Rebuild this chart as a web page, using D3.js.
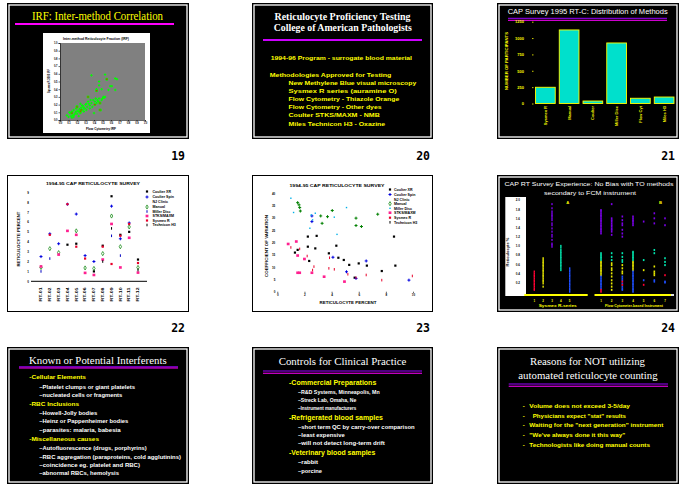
<!DOCTYPE html>
<html><head><meta charset="utf-8">
<script src="https://cdn.jsdelivr.net/npm/d3@7"></script>
<style>body{margin:0;background:#fff}svg{display:block}</style>
</head><body>
<script>
// ================= DATA =================
// Slide 19: IRF inter-method correlation (x = flow cytometry IRF, y = Sysmex IRF)
const irfGreen = [[0.08,0.06],[0.10,0.04],[0.12,0.09],[0.13,0.05],[0.14,0.11],[0.15,0.06],[0.16,0.13],[0.16,0.04],[0.18,0.09],[0.19,0.15],[0.20,0.08],[0.20,0.18],[0.22,0.11],[0.23,0.14],[0.24,0.21],[0.24,0.09],[0.25,0.16],[0.27,0.13],[0.27,0.18],[0.28,0.11],[0.29,0.15],[0.31,0.21],[0.31,0.13],[0.32,0.17],[0.33,0.24],[0.35,0.15],[0.35,0.19],[0.36,0.26],[0.37,0.22],[0.38,0.17],[0.39,0.26],[0.40,0.09],[0.41,0.24],[0.42,0.28],[0.43,0.22],[0.44,0.26],[0.45,0.24],[0.46,0.28],[0.47,0.22],[0.48,0.13],[0.49,0.26],[0.50,0.28],[0.51,0.30],[0.52,0.29],[0.53,0.30],[0.37,0.58],[0.53,0.59],[0.55,0.53],[0.65,0.54],[0.67,0.53],[0.46,0.50],[0.43,0.40],[0.46,0.45],[0.49,0.40],[0.57,0.39],[0.59,0.44],[0.61,0.44],[0.65,0.39],[0.14,0.03],[0.11,0.10],[0.17,0.07],[0.21,0.12],[0.26,0.19],[0.30,0.20],[0.34,0.21],[0.22,0.05],[0.19,0.11],[0.28,0.16]];
const irfRed = [[0.20,0.17],[0.24,0.11],[0.33,0.30],[0.43,0.38],[0.47,0.22],[0.47,0.13],[0.55,0.53],[0.14,0.09],[0.25,0.13],[0.41,0.20]];
const irfTicks = [0,0.1,0.2,0.3,0.4,0.5,0.6,0.7,0.8,0.9,1.0];

// Slide 20 text
const s20Title = ["Reticulocyte Proficiency Testing","College of American Pathologists"];
const s20Intro = "1994-96 Program - surrogate blood material";
const s20Head = "Methodologies Approved for Testing";
const s20Items = ["New Methylene Blue visual microscopy","Sysmex R series (auramine O)","Flow Cytometry - Thiazole Orange","Flow Cytometry - Other dyes","Coulter STKS/MAXM - NMB","Miles Technicon H3 - Oxazine"];

// Slide 21: distribution of methods
const methodCategories = ["Sysmex R","Manual","Coulter","Miller Disc","Flow Cyt","Miles H3"];
const methodCounts = [248,1124,38,925,80,99];
const methodTicks = [0,250,500,750,1000,1250];

// Slides 22/23: 1994-95 CAP reticulocyte survey
const surveySeries = ["Coulter XR","Coulter Spin","Manual","Miller Disc","STKS/MAXM","Sysmex R","Technicon H3"];
const specimens = ["RT-01","RT-02","RT-03","RT-04","RT-05","RT-06","RT-07","RT-08","RT-09","RT-10","RT-11","RT-12"];
const retCoulterXR   = [null,null,null,3.7,3.8,null,1.0,3.6,8.6,4.7,5.0,2.2];
const retCoulterSpin = [2.5,4.8,3.8,7.8,6.8,2.6,2.0,null,7.6,4.3,5.9,null];
const retManual      = [1.4,3.3,2.9,null,5.1,1.35,1.3,2.8,6.6,3.5,5.5,1.4];
const retMillerDisc  = [1.0,2.3,null,null,null,null,null,null,4.6,2.6,null,null];
const retSTKS        = [1.5,null,2.7,5.1,4.7,0.85,0.64,2.2,5.8,1.4,4.4,0.88];
const retSysmex      = [null,4.7,null,7.8,3.5,2.3,null,3.5,1.75,4.6,5.8,1.85];
const retTechnicon   = [null,null,null,null,null,null,null,2.0,5.35,null,null,1.14];
const retTicks = [0,1,2,3,4,5,6,7,8,9];

// Slide 23: CV vs reticulocyte percent, [retic %, CV]
const cvCoulterXR = [[2.25,22.4],[2.9,22.7],[1.3,15.9],[1.5,17.0],[2.25,18.3],[2.8,17.6],[4.35,18.7],[3.8,15.6],[4.5,13.8],[2.35,12.5],[4.9,12.9],[5.3,10.9],[6.0,11.5],[6.6,10.6],[7.7,8.4],[8.6,22.4],[8.7,10.6],[5.7,5.7]];
const cvCoulterSpin = [[2.55,30.8],[2.55,28.5],[4.1,14.0],[5.1,8.1],[6.55,12.5],[9.7,4.7],[5.8,5.4]];
const cvManual = [[1.5,36.2],[1.6,35.3],[1.65,34.2],[1.7,32.8],[3.2,30.8],[3.7,30.5],[3.3,27.8],[4.05,33.0],[5.8,29.9],[5.8,26.9],[6.2,26.5],[7.4,31.5]];
const cvMillerDisc = [[1.0,38.0],[1.2,32.2],[2.5,31.2],[2.8,31.9],[2.4,25.8],[2.6,29.2],[4.4,23.3],[5.1,34.2],[4.2,30.3]];
const cvSTKS = [[0.8,19.4],[1.4,20.4],[1.5,14.7],[2.0,13.3],[1.5,7.7],[1.65,7.7],[2.55,7.7],[3.45,6.1],[4.95,4.1]];
const cvSysmex = [[1.0,18.0],[1.65,17.4],[2.2,14.5],[2.7,10.2],[2.6,8.8],[3.85,13.8],[3.8,9.5],[4.2,9.1],[5.2,7.1],[5.8,5.7],[6.55,6.8],[7.7,4.7],[9.95,6.4]];
const cvTechnicon = [];
const cvTicksY = [0,5,10,15,20,25,30,35,40];
const cvTicksX = [0,2,4,6,8,10];

// Slide 24: CAP RT survey strips (values per column, by colour group)
const rtSysmexCols = ["1","2","3","4","5"];
const rtFlowCols = ["1","2","3","4","5","6","7"];
const rtRed = {S:[[0.44,0.4,0.36,0.33,0.29,0.25,0.22,0.18,0.15,0.11,0.07,0.04],[],[],[],[]],
               F:[[0.04,0.0],[],[0.22,0.15],[],[0.15],[],[0.36]]};
const rtYellow = {S:[[],[0.73,0.69,0.65,0.62,0.58,0.55,0.51,0.47,0.44,0.4,0.36,0.33,0.29,0.25,0.22,0.18,0.11],[],[],[]],
               F:[[0.65,0.62,0.58,0.55,0.51,0.47,0.44,0.4,0.36],[0.62,0.58,0.51,0.47,0.4,0.33,0.25,0.18,0.11,0.04],[0.58,0.51,0.44,0.4],[0.65,0.62,0.58,0.55,0.51,0.47],[0.47],[0.55,0.44,0.4,0.36],[]]};
const rtPurple = {S:[[],[],[1.91,1.82,1.75,1.71,1.67,1.64,1.6,1.56,1.49,1.45,1.38,1.31,1.24,1.2,1.13,1.05,1.02,0.98],[],[]],
               F:[[1.78,1.75,1.71,1.67,1.64,1.6,1.56,1.53,1.49,1.45,1.42,1.38,1.35,1.31,1.27],[1.91,1.6,1.56,1.53,1.49,1.45,1.42,1.38,1.35,1.31,1.24],[1.64,1.56,1.49,1.45,1.35,1.27,1.2],[1.64,1.6,1.56,1.53,1.49,1.45],[1.53],[1.71,1.6,1.49],[1.6,1.45]]};
const rtCyan = {S:[[],[],[],[1.0,0.96,0.91,0.87,0.84,0.8,0.76,0.73,0.69,0.65,0.62,0.58,0.55,0.51,0.47],[]],
               F:[[0.84,0.8,0.76,0.73,0.69],[0.84,0.76,0.69],[0.84,0.76,0.69,0.65],[0.87,0.84,0.8,0.76,0.73,0.69],[0.69],[0.91,0.84],[0.73,0.65,0.58]]};
const rtBlue = {S:[[],[],[],[],[0.51,0.47,0.44,0.4,0.36,0.33,0.29,0.25,0.22,0.18,0.15,0.11,0.07,0.04,0.0]],
               F:[[0.33,0.29,0.25,0.22,0.18,0.15,0.11,0.07],[],[0.33,0.29,0.25,0.18,0.11,0.07,0.04],[0.44,0.4,0.36,0.33,0.29,0.25,0.22,0.18,0.15,0.11,0.07,0.04,0.0],[0.25],[0.25,0.22],[0.22,0.2]]};
const rtTicks = [0.2,0.4,0.6,0.8,1.0,1.2,1.4,1.6,1.8,2.0];

// Slides 25-27 text
const s25Title = "Known or Potential Interferents";
const s25Sections = [
  ["-Cellular Elements", ["–Platelet clumps or giant platelets","–nucleated cells or fragments"]],
  ["-RBC Inclusions", ["–Howell-Jolly bodies","–Heinz or Pappenheimer bodies","–parasites: malaria, babesia"]],
  ["-Miscellaneous causes", ["–Autofluorescence (drugs, porphyrins)","–RBC aggregation (paraproteins, cold agglutinins)","–coincidence eg. platelet and RBC)","–abnormal RBCs, hemolysis"]]
];
const s26Title = "Controls for Clinical Practice";
const s26Sections = [
  ["-Commercial Preparations", ["–R&D Systems, Minneapolis, Mn","–Streck Lab, Omaha, Ne","–Instrument manufacturers"]],
  ["-Refrigerated blood samples", ["–short term QC by carry-over comparison","–least expensive","–will not detect long-term drift"]],
  ["-Veterinary blood samples", ["–rabbit","–porcine"]]
];
const s27Title = ["Reasons for NOT utilizing","automated reticulocyte counting"];
const s27Items = ["Volume does not exceed 3-5/day","Physicians expect \"stat\" results","Waiting for the \"next generation\" instrument","\"We've always done it this way\"","Technologists like doing manual counts"];
const slideNumbers = ["19","20","21","22","23","24"];

// ================= DRAWING =================
const W=686,H=490;
const SANS="'Liberation Sans', Arial, sans-serif", SERIF="'Liberation Serif','Times New Roman',serif";
const YEL="#ffff00", MAG="#ff00ff", PUR="#9a00ff";
const svg=d3.select("body").append("svg").attr("width",W).attr("height",H);
svg.append("rect").attr("width",W).attr("height",H).attr("fill","#fff");

function frame(x0,y0,x1,y1,dark){
  const g=svg.append("g");
  if(dark){
    g.append("rect").attr("x",x0).attr("y",y0).attr("width",x1-x0).attr("height",y1-y0).attr("fill","#000");
    g.append("rect").attr("x",x0+2).attr("y",y0+2).attr("width",x1-x0-4).attr("height",y1-y0-4).attr("fill","none").attr("stroke","#fff").attr("stroke-width",1.3);
  } else {
    g.append("rect").attr("x",x0+0.5).attr("y",y0+0.5).attr("width",x1-x0-1).attr("height",y1-y0-1).attr("fill","#fff").attr("stroke","#000").attr("stroke-width",1);
  }
  return g;
}
function label(g,s,x,y,o={}){
  const t=g.append("text").attr("x",x).attr("y",y).text(s)
    .attr("font-family",o.family||SANS).attr("font-size",o.size||6).attr("font-weight",o.weight||"bold")
    .attr("fill",o.fill||"#fff").attr("text-anchor",o.anchor||"start");
  if(o.len){t.attr("textLength",o.len).attr("lengthAdjust","spacingAndGlyphs");}
  if(o.rotate!=null) t.attr("transform",`rotate(${o.rotate},${x},${y})`);
  return t;
}
function hline(g,x0,x1,y,color,w){
  g.append("line").attr("x1",x0).attr("x2",x1).attr("y1",y).attr("y2",y).attr("stroke",color).attr("stroke-width",w);
}
function marker(g,type,x,y,color){
  if(type==="sq"){g.append("rect").attr("x",x-1.1).attr("y",y-1.1).attr("width",2.2).attr("height",2.2).attr("fill",color);}
  else if(type==="bigsq"){g.append("rect").attr("x",x-1.4).attr("y",y-1.3).attr("width",2.8).attr("height",2.6).attr("fill",color);}
  else if(type==="dot"){g.append("rect").attr("x",x-0.7).attr("y",y-0.7).attr("width",1.4).attr("height",1.4).attr("fill",color);}
  else if(type==="plus"){
    g.append("rect").attr("x",x-1.5).attr("y",y-0.5).attr("width",3).attr("height",1).attr("fill",color);
    g.append("rect").attr("x",x-0.5).attr("y",y-1.5).attr("width",1).attr("height",3).attr("fill",color);}
  else if(type==="diamond"){g.append("path").attr("transform",`translate(${x},${y})`).attr("d",d3.symbol(d3.symbolDiamond,5)()).attr("fill","none").attr("stroke",color).attr("stroke-width",0.7);}
  else if(type==="dash"){g.append("rect").attr("x",x-0.5).attr("y",y-1.3).attr("width",1).attr("height",2.6).attr("fill",color);}
}

// ---------- Slide numbers ----------
const numPos=[[185,160],[430,160],[675,160],[185,332],[430,332],[675,332]];
slideNumbers.forEach((n,i)=>label(svg,n,numPos[i][0],numPos[i][1],{size:11.5,fill:"#000",anchor:"end",family:"'DejaVu Sans Mono', 'Liberation Mono', monospace"}));

// ---------- Slide 19 ----------
{
  const g=frame(7,3,189,139,true);
  label(g,"IRF: Inter-method Correlation",97.5,20,{family:SERIF,weight:"normal",size:11.5,fill:YEL,anchor:"middle",len:131});
  hline(g,15,174,24,MAG,2);
  g.append("rect").attr("x",43).attr("y",33).attr("width",107).attr("height",100).attr("fill","#fff");
  const x=d3.scaleLinear().domain([0,1]).range([60,145]);
  const y=d3.scaleLinear().domain([0,1]).range([120,43]);
  g.append("rect").attr("x",x(0)).attr("y",y(1)).attr("width",x(1)-x(0)).attr("height",y(0)-y(1)).attr("fill","#808080");
  label(g,"Inter-method Reticulocyte Fraction (IRF)",96,39.5,{size:3.2,fill:"#000",anchor:"middle",len:66});
  const ax=g.append("g").attr("transform",`translate(0,${y(0)})`).call(d3.axisBottom(x).tickValues(irfTicks).tickSize(1.5).tickPadding(1).tickFormat(d3.format(".1f")));
  const ay=g.append("g").attr("transform",`translate(${x(0)},0)`).call(d3.axisLeft(y).tickValues(irfTicks).tickSize(1.5).tickPadding(1).tickFormat(d3.format(".1f")));
  [ax,ay].forEach(a=>{a.selectAll("text").attr("font-size",2.6).attr("font-family",SANS).attr("font-weight","bold").attr("fill","#000");a.selectAll("line,path").attr("stroke","#000").attr("stroke-width",0.6);});
  label(g,"Flow Cytometry IRF",101,129.5,{size:3,fill:"#000",anchor:"middle",len:30});
  label(g,"Sysmex R-3000 IRF",50,81,{size:3,fill:"#000",anchor:"middle",rotate:-90,len:24});
  irfGreen.forEach(d=>{
    g.append("rect").attr("x",x(d[0])-1.2).attr("y",y(d[1])-0.5).attr("width",2.4).attr("height",1).attr("fill","#00ff00");
    g.append("rect").attr("x",x(d[0])-0.5).attr("y",y(d[1])-1.2).attr("width",1).attr("height",2.4).attr("fill","#00ff00");
  });
  irfRed.forEach(d=>{
    g.append("rect").attr("x",x(d[0])-1.3).attr("y",y(d[1])-1.3).attr("width",2.6).attr("height",2.6).attr("fill","#00ff00");
    g.append("rect").attr("x",x(d[0])-0.6).attr("y",y(d[1])-0.6).attr("width",1.2).attr("height",1.2).attr("fill","#ff0000");
  });
}

// ---------- Slide 20 ----------
{
  const g=frame(252,3,433,139,true);
  label(g,s20Title[0],342.5,20,{family:SERIF,size:10,fill:"#fff",anchor:"middle",len:136});
  label(g,s20Title[1],342.8,31,{family:SERIF,size:10,fill:"#fff",anchor:"middle",len:138});
  hline(g,263,422,40,"#cc00ff",1.8);
  label(g,s20Intro,270.7,60,{size:6,fill:YEL,len:141.3});
  label(g,s20Head,269.7,77,{size:6,fill:YEL,len:121.6});
  const lens=[127.7,108.3,110.7,93,91.3,96.7];
  s20Items.forEach((s,i)=>label(g,s,288.5,85+i*8.1,{size:6,fill:YEL,len:lens[i]}));
}

// ---------- Slide 21 ----------
{
  const g=frame(497,3,679,139,true);
  label(g,"CAP Survey 1995 RT-C: Distribution of Methods",587.7,14,{size:6.5,weight:"normal",fill:"#fff",anchor:"middle",len:160});
  hline(g,508,667,18.3,PUR,1);
  hline(g,508,667,20.3,MAG,1);
  const x=d3.scaleBand().domain(methodCategories).range([533.5,676]).paddingInner(0.17).paddingOuter(0.085);
  const y=d3.scaleLinear().domain([0,1250]).range([103.5,21.7]);
  g.selectAll("rect.bar").data(methodCounts).enter().append("rect").attr("class","bar")
    .attr("x",(d,i)=>x(methodCategories[i])).attr("y",d=>y(d)).attr("width",x.bandwidth()).attr("height",d=>y(0)-y(d))
    .attr("fill","#00e0cc").attr("stroke",YEL).attr("stroke-width",0.9);
  const ay=g.append("g").attr("transform","translate(533.5,0)").call(d3.axisLeft(y).tickValues(methodTicks).tickSize(1.5).tickPadding(8).tickFormat(d3.format("d")));
  ay.select(".domain").remove();
  ay.selectAll("line").attr("stroke",YEL).attr("stroke-width",0.8);
  ay.selectAll("text").attr("font-size",4).attr("font-family",SANS).attr("font-weight","bold").attr("fill",YEL);
  label(g,"NUMBER OF PARTICIPANTS",507.8,61,{size:4.2,fill:YEL,anchor:"middle",rotate:-90,len:58});
  methodCategories.forEach(c=>label(g,c,x(c)+x.bandwidth()/2+1.5,106,{size:4,fill:YEL,anchor:"end",rotate:-90}));
}

// ---------- Slide 22 ----------
const seriesStyle = {
  "Coulter XR":["sq","#000"],"Coulter Spin":["plus","#0000e0"],"Manual":["diamond","#008000"],
  "Miller Disc":["dash","#0000c0"],"STKS/MAXM":["bigsq","#ff2090"],"Sysmex R":["sq","#e8002a"],"Technicon H3":["dash","#000"]};
const retValues=[retCoulterXR,retCoulterSpin,retManual,retMillerDisc,retSTKS,retSysmex,retTechnicon];
const cvValues=[cvCoulterXR,cvCoulterSpin,cvManual,cvMillerDisc,cvSTKS,cvSysmex,cvTechnicon];
function legend(g,x0,tx,ys,cyan){
  surveySeries.forEach((s,i)=>{
    let st=seriesStyle[s];
    if(cyan && s==="Miller Disc") st=["dot","#00b0e8"];
    marker(g,st[0],x0,ys[i],st[1]);
    label(g,s,tx,ys[i]+1.4,{size:3.6,fill:"#000"});
  });
  label(g,"NJ Clinic",tx,ys[1]+6.2,{size:3.6,fill:"#000"});
}
{
  const g=frame(7,175,189,312,false);
  label(g,"1994-95 CAP RETICULOCYTE SURVEY",93,185,{size:4,fill:"#000",anchor:"middle",len:94});
  const x=d3.scalePoint().domain(specimens).range([41,138]);
  const y=d3.scaleLinear().domain([0,9]).range([281.3,192.3]);
  g.append("line").attr("x1",x.range()[0]-10).attr("x2",x.range()[1]+9).attr("y1",y(0)).attr("y2",y(0)).attr("stroke","#000").attr("stroke-width",1);
  const ay=g.append("g").attr("transform","translate(31,0)").call(d3.axisLeft(y).tickValues(retTicks).tickSize(0).tickPadding(2).tickFormat(d3.format("d")));
  ay.select(".domain").remove();
  ay.selectAll("text").attr("font-size",3).attr("font-family",SANS).attr("font-weight","bold").attr("fill","#000");
  label(g,"RETICULOCYTE PERCENT",20,239,{size:4,fill:"#000",anchor:"middle",rotate:-90,len:55});
  specimens.forEach(s=>label(g,s,x(s)+1.3,287.5,{size:3.8,fill:"#000",anchor:"end",rotate:-90,len:14}));
  surveySeries.forEach((s,k)=>{
    const st=seriesStyle[s];
    retValues[k].forEach((v,i)=>{ if(v!=null) marker(g,st[0],x(specimens[i]),y(v),st[1]); });
  });
  legend(g,147,152.5,[191.5,197,207,211.5,216,220.5,225],false);
}

// ---------- Slide 23 ----------
{
  const g=frame(252,175,433,312,false);
  label(g,"1994-95 CAP RETICULOCYTE SURVEY",337,186.5,{size:4,fill:"#000",anchor:"middle",len:95});
  const x=d3.scaleLinear().domain([0,10]).range([277.3,413]);
  const y=d3.scaleLinear().domain([0,40]).range([291.7,193.3]);
  const ay=g.append("g").attr("transform",`translate(${x(0)},0)`).call(d3.axisLeft(y).tickValues(cvTicksY).tickSize(0).tickPadding(2).tickFormat(d3.format("d")));
  ay.select(".domain").remove();
  const ax=g.append("g").attr("transform",`translate(0,${y(0)})`).call(d3.axisBottom(x).tickValues(cvTicksX).tickSize(1.5).tickPadding(1).tickFormat(d3.format("d")));
  ax.select(".domain").remove();
  [ax,ay].forEach(a=>{a.selectAll("text").attr("font-size",3).attr("font-family",SANS).attr("font-weight","bold").attr("fill","#000");a.selectAll("line").attr("stroke","#000").attr("stroke-width",0.6);});
  label(g,"RETICULOCYTE PERCENT",348,304,{size:4,fill:"#000",anchor:"middle",len:57});
  label(g,"COEFFICIENT OF VARIATION",267.5,246,{size:4,fill:"#000",anchor:"middle",rotate:-90,len:62});
  surveySeries.forEach((s,k)=>{
    let st=seriesStyle[s];
    if(s==="Miller Disc") st=["dot","#00b0e8"];
    if(s==="Manual") st=["plus","#008000"];
    if(s==="Sysmex R") st=["dash","#e8002a"];
    cvValues[k].forEach(d=>marker(g,st[0],x(d[0]),y(d[1]),st[1]));
  });
  legend(g,390,394,[189.5,194.5,203.7,208.3,212.7,217.7,222.3],true);
}

// ---------- Slide 24 ----------
{
  const g=frame(497,175,679,312,true);
  label(g,"CAP RT Survey Experience: No Bias with TO methods",589,185.5,{size:6.2,weight:"normal",fill:"#fff",anchor:"middle",len:169});
  label(g,"secondary to FCM instrument",590,195,{size:6.2,weight:"normal",fill:"#fff",anchor:"middle",len:92});
  const y=d3.scaleLinear().domain([0,2]).range([291.7,200]);
  g.append("rect").attr("x",505.3).attr("y",197).attr("width",20.7).attr("height",99).attr("fill","#fff");
  const ay=g.append("g").attr("transform","translate(521,0)").call(d3.axisLeft(y).tickValues(rtTicks).tickSize(0).tickPadding(1).tickFormat(d3.format(".1f")));
  ay.select(".domain").remove();
  ay.selectAll("text").attr("font-size",3).attr("font-family",SANS).attr("font-weight","bold").attr("fill","#000");
  label(g,"Reticulocyte %",508.5,252,{size:3,fill:"#000",anchor:"middle",rotate:-90,len:29});
  const xs=d3.scalePoint().domain(rtSysmexCols).range([534.3,569.7]);
  const xf=d3.scalePoint().domain(rtFlowCols).range([601,665]);
  const colours=[[rtPurple,"#7a00e8"],[rtCyan,"#00e8b0"],[rtYellow,"#e8e800"],[rtBlue,"#1f4fff"],[rtRed,"#ff0033"]];
  colours.forEach(([set,c])=>{
    rtSysmexCols.forEach((col,i)=>set.S[i].forEach(v=>g.append("rect").attr("x",xs(col)-0.7).attr("y",y(v)-1).attr("width",1.4).attr("height",2).attr("fill",c)));
    rtFlowCols.forEach((col,i)=>set.F[i].forEach(v=>g.append("rect").attr("x",xf(col)-0.8).attr("y",y(v)-1).attr("width",1.6).attr("height",2).attr("fill",c)));
  });
  const by=y(0)+3.3;
  g.append("line").attr("x1",xs.range()[0]-10).attr("x2",xs.range()[1]+18).attr("y1",by).attr("y2",by).attr("stroke",YEL).attr("stroke-width",1.8);
  g.append("line").attr("x1",xf.range()[0]-6.5).attr("x2",xf.range()[1]+6).attr("y1",by).attr("y2",by).attr("stroke",YEL).attr("stroke-width",1.8);
  g.append("line").attr("x1",xf.range()[1]+6).attr("x2",xf.range()[1]+9).attr("y1",by).attr("y2",by).attr("stroke","#fff").attr("stroke-width",1.8);
  label(g,"A",xs("5")-2,204,{size:4.2,fill:YEL,anchor:"middle"});
  label(g,"B",xf("7")-4.5,204,{size:4.2,fill:YEL,anchor:"middle"});
  rtSysmexCols.forEach(c=>label(g,c,xs(c),302,{size:3,fill:YEL,anchor:"middle"}));
  rtFlowCols.forEach(c=>label(g,c,xf(c),302,{size:3,fill:YEL,anchor:"middle"}));
  label(g,"Sysmex R-series",557.7,307,{size:3.6,fill:YEL,anchor:"middle",len:38});
  label(g,"Flow Cytometer-based Instrument",634,307,{size:3.6,fill:YEL,anchor:"middle",len:58});
}

// ---------- Slides 25-26 (bulleted text) ----------
function sections(g,secs,hx,sx,ys,hsize,ssize,hl,sl){
  let k=0,hi=0,si=0;
  secs.forEach(([h,items])=>{
    label(g,h,hx,ys[k++]+2,{size:hsize,fill:YEL,len:hl[hi++]});
    items.forEach(s=>label(g,s,sx,ys[k++]+1.9,{size:ssize,fill:"#fff",len:sl[si++]}));
  });
}
{
  const g=frame(7,347,189,484,true);
  label(g,s25Title,97.8,363.5,{family:SERIF,weight:"normal",size:11,fill:"#fff",anchor:"middle",len:137.7});
  hline(g,19,178,366.8,PUR,1); hline(g,19,178,368,MAG,1);
  sections(g,s25Sections,29.3,39.3,[377.3,386.7,395.3,404,412.7,421,430,439,448.3,456.7,465,473.3],6,5.4,
    [56.7,49.7,69.7],[95.7,83,58,89,81.4,107.4,141.7,100.7,79.7]);
}
{
  const g=frame(252,347,433,484,true);
  label(g,s26Title,342.5,365.3,{family:SERIF,weight:"normal",size:10.8,fill:"#fff",anchor:"middle",len:127.7});
  hline(g,263,422,371,PUR,1.1); hline(g,263,422,373.3,MAG,1.1);
  sections(g,s26Sections,289,298,[382.7,391.7,400,408.3,417.7,426.7,435,443.3,453.3,462.3,471],6.4,5.6,
    [87.3,94,86.3],[81.7,58.3,58.3,116.7,46.7,86.7,20,24]);
}
// ---------- Slide 27 ----------
{
  const g=frame(497,347,679,484,true);
  label(g,s27Title[0],587.5,364.5,{family:SERIF,weight:"normal",size:10.8,fill:"#fff",anchor:"middle",len:115});
  label(g,s27Title[1],588,378.5,{family:SERIF,weight:"normal",size:10.8,fill:"#fff",anchor:"middle",len:139.4});
  hline(g,508.7,668,384,PUR,1.1); hline(g,508.7,668,386.2,MAG,1.1);
  const starts=[529.3,532.7,529.3,529.3,529.3], lens=[100.7,93.3,134,96,120.7];
  s27Items.forEach((s,i)=>{
    const yy=[405.7,415.7,425,435,445][i]+2.1;
    label(g,"-",522.7,yy,{size:6,fill:YEL});
    label(g,s,starts[i],yy,{size:6,fill:YEL,len:lens[i]});
  });
}
</script>
</body></html>
